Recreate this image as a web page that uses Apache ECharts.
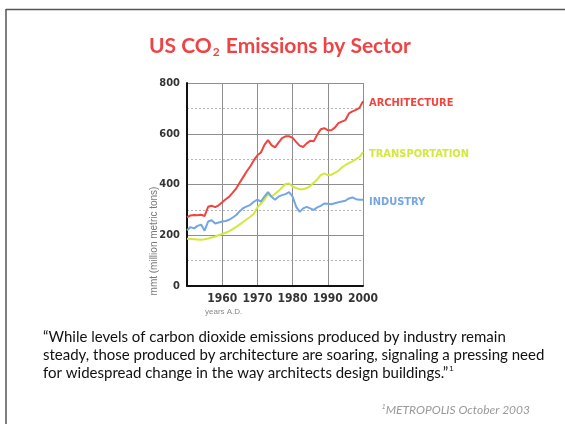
<!DOCTYPE html>
<html>
<head>
<meta charset="utf-8">
<script src="https://cdn.jsdelivr.net/npm/echarts@6/dist/echarts.min.js"></script>
<style>
  html, body { margin: 0; padding: 0; background: #fff; }
  #chart { width: 565px; height: 424px; }
</style>
</head>
<body>
<div id="chart"></div>
<script>
// years 1950..2000
var years = [1950,1951,1952,1953,1954,1955,1956,1957,1958,1959,
  1960,1961,1962,1963,1964,1965,1966,1967,1968,1969,
  1970,1971,1972,1973,1974,1975,1976,1977,1978,1979,
  1980,1981,1982,1983,1984,1985,1986,1987,1988,1989,
  1990,1991,1992,1993,1994,1995,1996,1997,1998,1999,2000];

// mmt (million metric tons)
var architecture = [270,278,280,279,281,276,312,316,311,318,
  330,342,352,368,385,408,430,452,472,496,
  515,526,556,575,555,546,565,583,590,590,
  584,568,553,548,562,572,570,596,618,622,
  614,614,624,642,648,654,680,688,694,702,728];

var transportation = [186,185,184,183,182,184,187,191,195,200,
  205,210,216,224,233,243,253,263,273,285,
  310,325,340,362,352,364,374,388,402,404,
  392,386,381,381,386,394,407,420,437,444,
  437,438,446,454,467,477,484,491,500,508,528];

var industry = [220,232,227,237,242,218,254,259,246,250,
  254,256,261,270,280,295,307,314,320,332,
  340,333,352,370,352,340,352,358,362,370,
  352,313,292,306,312,306,300,310,316,325,
  324,322,326,330,333,336,345,349,342,340,340];

var seriesNames = ['ARCHITECTURE', 'TRANSPORTATION', 'INDUSTRY'];
var seriesColors = ['#f0443e', '#d3e83c', '#74a6e4'];

var quoteLines = [
  '\u201cWhile levels of carbon dioxide emissions produced by industry remain',
  'steady, those produced by architecture are soaring, signaling a pressing need',
  'for widespread change in the way architects design buildings.\u201d'
];

function pairs(vals) {
  return years.map(function (y, i) { return [y, vals[i]]; });
}

var condensed = '"Liberation Sans Narrow", "DejaVu Sans Condensed", sans-serif';
var labelOffsets = [[0, 2], [0, 2], [0, 2]];

var myChart = echarts.init(document.getElementById('chart'));

var allSeries = [architecture, transportation, industry].map(function (vals, i) {
  return {
    name: seriesNames[i],
    type: 'line',
    xAxisIndex: 0,
    data: pairs(vals),
    symbol: 'none',
    lineStyle: { color: seriesColors[i], width: 2 },
    itemStyle: { color: seriesColors[i] },
    endLabel: {
      show: true,
      formatter: seriesNames[i],
      color: seriesColors[i],
      fontFamily: condensed,
      fontWeight: 'bold',
      fontSize: 11,
      distance: 6,
      offset: labelOffsets[i]
    }
  };
});

myChart.setOption({
  animation: false,
  title: {
    text: '{a|US CO}{s|2}{a| Emissions by Sector}',
    left: 144,
    top: 29,
    textStyle: {
      rich: {
        a: { fontFamily: 'Lato', fontWeight: 'bold', fontSize: 21, color: '#ee4446', lineHeight: 24 },
        s: { fontFamily: 'Lato', fontWeight: 'bold', fontSize: 12, color: '#ee4446', lineHeight: 24, verticalAlign: 'bottom', padding: [9, 1, 0, 1] }
      }
    }
  },
  grid: { left: 187, right: 202, top: 83, bottom: 138 },
  xAxis: [{
    // visible axis: line and year labels
    type: 'value',
    min: 1950,
    max: 2000,
    interval: 10,
    z: 3,
    axisLine: { show: true, onZero: false, lineStyle: { color: '#111', width: 2 } },
    axisTick: { show: false },
    axisLabel: {
      showMinLabel: false,
      margin: 7,
      color: '#333',
      fontFamily: condensed,
      fontWeight: 'bold',
      fontSize: 12,
      formatter: function (v) { return String(v); }
    },
    splitLine: { show: false }
  }, {
    // twin axis that only draws the vertical grid lines
    type: 'value',
    position: 'bottom',
    min: 1950,
    max: 2000,
    interval: 10,
    axisLine: { show: false, onZero: false },
    axisTick: { show: false },
    axisLabel: { color: 'rgba(0,0,0,0)' },
    splitLine: { show: true, lineStyle: { color: '#8e8e8e', width: 1 } }
  }],
  yAxis: {
    type: 'value',
    min: 0,
    max: 800,
    interval: 200,
    axisLine: { show: true, lineStyle: { color: '#111', width: 2 } },
    axisTick: { show: false },
    axisLabel: {
      margin: 7,
      color: '#333',
      fontFamily: condensed,
      fontWeight: 'bold',
      fontSize: 11
    },
    splitLine: { show: true, lineStyle: { color: '#8e8e8e', width: 1 } },
    minorTick: { show: false, splitNumber: 2 },
    minorSplitLine: { show: true, lineStyle: { color: '#b5b5b5', width: 1, type: [2, 2] } }
  },
  series: allSeries,
  graphic: [
    // slide frame (top and left edges)
    { type: 'line', shape: { x1: 6, y1: 9.5, x2: 565, y2: 9.5 }, style: { stroke: '#555', lineWidth: 1.5 } },
    { type: 'line', shape: { x1: 6, y1: 9, x2: 6, y2: 424 }, style: { stroke: '#555', lineWidth: 1.5 } },
    {
      type: 'text', x: 154, y: 241, rotation: Math.PI / 2,
      style: {
        text: 'mmt (million metric tons)', fill: '#777', font: '10px "Liberation Sans Narrow", sans-serif',
        textAlign: 'center', textVerticalAlign: 'middle'
      }
    },
    {
      type: 'text', x: 205, y: 308,
      style: { text: 'years A.D.', fill: '#888', font: '8px "Liberation Sans Narrow", sans-serif' }
    },
    {
      type: 'text', x: 43, y: 328,
      style: {
        text: quoteLines[0] + '\n' + quoteLines[1] + '\n' + quoteLines[2] + '{sup|1}',
        fill: '#111', font: '15px Lato', lineHeight: 18,
        rich: { sup: { fontSize: 8, fill: '#111', padding: [0, 0, 8, 1] } }
      }
    },
    {
      type: 'text', x: 530, y: 404,
      style: {
        text: '{sup|1}{t|METROPOLIS October 2003}', textAlign: 'right',
        rich: {
          sup: { fontSize: 7, fill: '#999', fontStyle: 'italic', padding: [0, 0, 6, 0] },
          t: { font: 'italic 12px Lato', fill: '#999' }
        }
      }
    }
  ]
});
</script>
</body>
</html>
